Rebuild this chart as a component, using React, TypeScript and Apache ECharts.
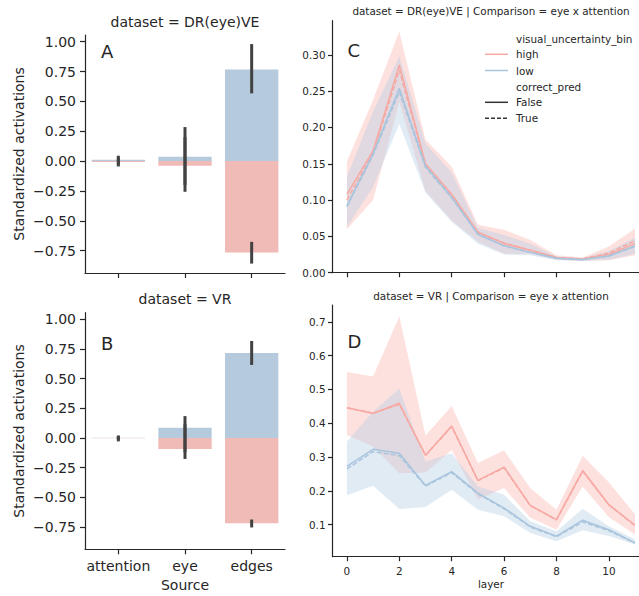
import React, { useEffect, useRef } from "react";
import * as echarts from "echarts";

const FONT = "DejaVu Sans";
const INK = "#262626";

// ---- Panels A / B (bars) ----
const sources = ["attention", "eye", "edges"];
const aLow = [0.011, 0.036, 0.767];
const aHigh = [-0.008, -0.039, -0.765];
const aLowCiLo = [-0.03, -0.2, 0.567];
const aLowCiHi = [0.045, 0.285, 0.98];
const aHighCiLo = [-0.045, -0.257, -0.858];
const aHighCiHi = [0.03, 0.2, -0.676];

const bLow = [0.002, 0.087, 0.717];
const bHigh = [-0.002, -0.092, -0.717];
const bLowCiLo = [-0.015, -0.12, 0.616];
const bLowCiHi = [0.022, 0.185, 0.818];
const bHighCiLo = [-0.028, -0.176, -0.753];
const bHighCiHi = [0.015, 0.12, -0.686];

const barTicks = [-0.75, -0.5, -0.25, 0, 0.25, 0.5, 0.75, 1.0];

// ---- Panels C / D (lines) ----
const layers = [0, 1, 2, 3, 4, 5, 6, 7, 8, 9, 10, 11];
const layerTicks = [0, 2, 4, 6, 8, 10];

const cHighFalse = [0.108, 0.168, 0.286, 0.150, 0.108, 0.056, 0.040, 0.031, 0.021, 0.019, 0.025, 0.040];
const cHighTrue = [0.100, 0.165, 0.279, 0.148, 0.106, 0.055, 0.041, 0.031, 0.021, 0.019, 0.027, 0.044];
const cLowFalse = [0.092, 0.164, 0.254, 0.147, 0.104, 0.053, 0.037, 0.028, 0.020, 0.018, 0.023, 0.037];
const cLowTrue = [0.091, 0.162, 0.249, 0.145, 0.103, 0.053, 0.037, 0.028, 0.020, 0.018, 0.023, 0.036];
const cHighUpper = [0.153, 0.238, 0.332, 0.183, 0.146, 0.066, 0.059, 0.045, 0.024, 0.021, 0.036, 0.061];
const cHighLower = [0.060, 0.100, 0.235, 0.113, 0.072, 0.043, 0.026, 0.026, 0.018, 0.016, 0.017, 0.024];
const cLowUpper = [0.132, 0.222, 0.298, 0.178, 0.138, 0.062, 0.052, 0.040, 0.022, 0.020, 0.030, 0.048];
const cLowLower = [0.063, 0.118, 0.205, 0.110, 0.070, 0.040, 0.025, 0.024, 0.017, 0.016, 0.018, 0.026];
const cTicks = [0, 0.05, 0.1, 0.15, 0.2, 0.25, 0.3];

const dHighFalse = [0.446, 0.429, 0.459, 0.305, 0.392, 0.231, 0.270, 0.157, 0.115, 0.260, 0.159, 0.098];
const dHighTrue = [0.446, 0.430, 0.456, 0.305, 0.390, 0.230, 0.268, 0.156, 0.114, 0.258, 0.158, 0.097];
const dLowFalse = [0.272, 0.323, 0.311, 0.216, 0.257, 0.193, 0.149, 0.095, 0.066, 0.113, 0.085, 0.046];
const dLowTrue = [0.265, 0.316, 0.304, 0.214, 0.254, 0.191, 0.147, 0.093, 0.064, 0.108, 0.082, 0.045];
const dHighUpper = [0.552, 0.538, 0.717, 0.364, 0.451, 0.282, 0.319, 0.208, 0.144, 0.304, 0.225, 0.130];
const dHighLower = [0.365, 0.331, 0.252, 0.254, 0.321, 0.174, 0.208, 0.120, 0.085, 0.213, 0.122, 0.071];
const dLowUpper = [0.346, 0.434, 0.503, 0.287, 0.311, 0.213, 0.188, 0.110, 0.080, 0.147, 0.095, 0.056];
const dLowLower = [0.187, 0.215, 0.146, 0.152, 0.203, 0.144, 0.125, 0.075, 0.051, 0.083, 0.066, 0.041];
const dTicks = [0.1, 0.2, 0.3, 0.4, 0.5, 0.6, 0.7];

const RED_BAR = "#f0bab6";
const BLUE_BAR = "#b6cadd";
const RED_LINE = "#f7a9a3";
const BLUE_LINE = "#a9c5de";
const RED_FILL = "#fbb4ae";
const BLUE_FILL = "#b3cde3";

function fmtSigned(v: number, d: number) {
  return (v < 0 ? "\u2212" : "") + Math.abs(v).toFixed(d);
}

export default function App() {
  const ref = useRef<HTMLDivElement>(null);

  useEffect(() => {
    if (!ref.current) return;
    const chart = echarts.init(ref.current, undefined, { renderer: "svg" });

    const axisLine = { show: true, onZero: false, lineStyle: { color: INK, width: 1.2 } };
    const axisTickBase = { show: true, length: 5, lineStyle: { color: INK, width: 1.2 } };

    const barSeries = (idx: number, vals: number[], color: string) => ({
      type: "bar",
      xAxisIndex: idx,
      yAxisIndex: idx,
      data: vals,
      barWidth: "80%",
      barGap: "-100%",
      itemStyle: { color },
      silent: true,
      z: 2,
    });

    const errSeries = (idx: number, lo: number[], hi: number[]) => ({
      type: "custom",
      xAxisIndex: idx,
      yAxisIndex: idx,
      data: sources.map((_, i) => [i, lo[i], hi[i]]),
      silent: true,
      z: 4,
      renderItem: (params: any, api: any) => {
        const x = api.value(0);
        const p1 = api.coord([x, api.value(1)]);
        const p2 = api.coord([x, api.value(2)]);
        return {
          type: "line",
          shape: { x1: p1[0], y1: p1[1], x2: p2[0], y2: p2[1] },
          style: { stroke: "#424242", lineWidth: 3 },
        };
      },
    });

    const bandSeries = (idx: number, upper: number[], lower: number[], color: string) => ({
      type: "custom",
      xAxisIndex: idx,
      yAxisIndex: idx,
      data: layers.map((l, i) => [l, lower[i], upper[i]]),
      silent: true,
      z: 1,
      renderItem: (params: any, api: any) => {
        if (params.dataIndex !== 0) return { type: "group", children: [] };
        const pts: number[][] = [];
        for (let i = 0; i < layers.length; i++) pts.push(api.coord([layers[i], upper[i]]));
        for (let i = layers.length - 1; i >= 0; i--) pts.push(api.coord([layers[i], lower[i]]));
        return {
          type: "polygon",
          shape: { points: pts },
          style: { fill: color, opacity: 0.4 },
        };
      },
    });

    const lineSeries = (idx: number, vals: number[], color: string, dashed: boolean) => ({
      type: "line",
      xAxisIndex: idx,
      yAxisIndex: idx,
      data: layers.map((l, i) => [l, vals[i]]),
      showSymbol: false,
      symbol: "none",
      silent: true,
      z: 3,
      lineStyle: { color, width: 1.5, type: dashed ? [5, 2] : "solid" },
    });

    const catX = (idx: number, showLabels: boolean) => ({
      type: "category",
      gridIndex: idx,
      data: sources,
      boundaryGap: true,
      axisLine,
      axisTick: { ...axisTickBase, alignWithLabel: true, interval: 0 },
      axisLabel: { show: showLabels, interval: 0, fontSize: 14, color: INK, margin: 10, fontFamily: FONT },
      splitLine: { show: false },
    });

    const barY = (idx: number) => ({
      type: "value",
      gridIndex: idx,
      min: -0.937,
      max: 1.056,
      axisLine,
      axisTick: { ...axisTickBase, customValues: barTicks },
      axisLabel: {
        fontSize: 14,
        color: INK,
        margin: 9,
        fontFamily: FONT,
        customValues: barTicks,
        formatter: (v: number) => fmtSigned(v, 2),
      },
      splitLine: { show: false },
    });

    const layerX = (idx: number, showLabels: boolean) => ({
      type: "value",
      gridIndex: idx,
      min: -0.55,
      max: 11.15,
      axisLine,
      axisTick: { ...axisTickBase, length: 4.5, customValues: layerTicks },
      axisLabel: {
        show: showLabels,
        fontSize: 10.4,
        color: INK,
        margin: 9,
        fontFamily: FONT,
        customValues: layerTicks,
        formatter: (v: number) => String(v),
      },
      splitLine: { show: false },
    });

    const lineY = (idx: number, min: number, max: number, ticks: number[], dec: number) => ({
      type: "value",
      gridIndex: idx,
      min,
      max,
      axisLine,
      axisTick: { ...axisTickBase, length: 4.5, customValues: ticks },
      axisLabel: {
        fontSize: 10.4,
        color: INK,
        margin: 7,
        fontFamily: FONT,
        customValues: ticks,
        formatter: (v: number) => fmtSigned(v, dec),
      },
      splitLine: { show: false },
    });

    const txt = (text: string, x: number, y: number, size: number, align = "center", extra: any = {}) => ({
      type: "text",
      x,
      y,
      silent: true,
      ...extra,
      style: {
        text,
        fontSize: size,
        fontFamily: FONT,
        fill: INK,
        align,
        verticalAlign: "middle",
      },
    });

    const legLine = (y: number, color: string, dashed: boolean) => ({
      type: "line",
      silent: true,
      shape: { x1: 485, y1: y, x2: 508, y2: y },
      style: { stroke: color, lineWidth: 1.5, lineDash: dashed ? [4, 2] : null },
    });

    const option: any = {
      animation: false,
      textStyle: { fontFamily: FONT },
      grid: [
        { left: 85, top: 35, width: 200, height: 238 },
        { left: 85, top: 312.7, width: 200, height: 236.6 },
        { left: 332.5, top: 20.7, width: 306.5, height: 252 },
        { left: 332.5, top: 305, width: 306.5, height: 251.7 },
      ],
      xAxis: [catX(0, false), catX(1, true), layerX(2, false), layerX(3, true)],
      yAxis: [
        barY(0),
        barY(1),
        lineY(2, 0, 0.347, cTicks, 2),
        lineY(3, 0.005, 0.75, dTicks, 1),
      ],
      series: [
        barSeries(0, aLow, BLUE_BAR),
        barSeries(0, aHigh, RED_BAR),
        errSeries(0, aLowCiLo, aLowCiHi),
        errSeries(0, aHighCiLo, aHighCiHi),
        barSeries(1, bLow, BLUE_BAR),
        barSeries(1, bHigh, RED_BAR),
        errSeries(1, bLowCiLo, bLowCiHi),
        errSeries(1, bHighCiLo, bHighCiHi),
        bandSeries(2, cHighUpper, cHighLower, RED_FILL),
        bandSeries(2, cLowUpper, cLowLower, BLUE_FILL),
        lineSeries(2, cHighFalse, RED_LINE, false),
        lineSeries(2, cHighTrue, RED_LINE, true),
        lineSeries(2, cLowFalse, BLUE_LINE, false),
        lineSeries(2, cLowTrue, BLUE_LINE, true),
        bandSeries(3, dHighUpper, dHighLower, RED_FILL),
        bandSeries(3, dLowUpper, dLowLower, BLUE_FILL),
        lineSeries(3, dHighFalse, RED_LINE, false),
        lineSeries(3, dHighTrue, RED_LINE, true),
        lineSeries(3, dLowFalse, BLUE_LINE, false),
        lineSeries(3, dLowTrue, BLUE_LINE, true),
      ],
      graphic: [
        txt("dataset = DR(eye)VE", 185, 21.7, 14),
        txt("dataset = VR", 185, 299.3, 14),
        txt("dataset = DR(eye)VE | Comparison = eye x attention", 491, 10.5, 10.4),
        txt("dataset = VR | Comparison = eye x attention", 491, 295.5, 10.4),
        txt("Standardized activations", 19, 154, 14, "center", { rotation: Math.PI / 2 }),
        txt("Standardized activations", 19, 431, 14, "center", { rotation: Math.PI / 2 }),
        txt("Source", 185, 585, 14),
        txt("layer", 491, 584.3, 10.4),
        txt("A", 101, 51, 18, "left"),
        txt("B", 101, 343, 18, "left"),
        txt("C", 347.5, 50, 18, "left"),
        txt("D", 347.5, 341, 18, "left"),
        txt("visual_uncertainty_bin", 516, 39, 10.4, "left"),
        legLine(54.3, RED_LINE, false),
        txt("high", 516, 54.3, 10.4, "left"),
        legLine(70.5, BLUE_LINE, false),
        txt("low", 516, 70.5, 10.4, "left"),
        txt("correct_pred", 516, 86.7, 10.4, "left"),
        legLine(102.3, "#333333", false),
        txt("False", 516, 102.3, 10.4, "left"),
        legLine(118.3, "#333333", true),
        txt("True", 516, 118.3, 10.4, "left"),
      ],
    };

    chart.setOption(option);
    return () => chart.dispose();
  }, []);

  return (
    <div
      ref={ref}
      style={{ position: "absolute", left: 0, top: 0, width: 639, height: 596, background: "#fff" }}
    />
  );
}
